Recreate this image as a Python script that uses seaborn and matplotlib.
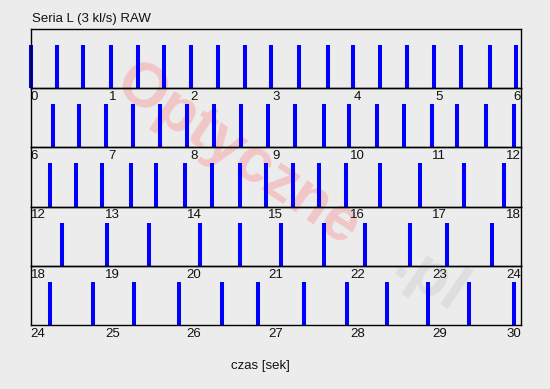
import numpy as np
import seaborn as sns
import matplotlib.pyplot as plt

row1 = [0.0, 0.32, 0.64, 0.98, 1.31, 1.63, 1.96, 2.29, 2.62, 2.94,
        3.29, 3.64, 3.95, 4.27, 4.60, 4.94, 5.27, 5.62, 5.94]
row2 = [6.27, 6.59, 6.92, 7.25, 7.59, 7.91, 8.24, 8.58, 8.90,
        9.24, 9.59, 9.90, 10.24, 10.57, 10.91, 11.22, 11.57, 11.91]
row3 = [12.24, 12.56, 12.88, 13.23, 13.53, 13.89, 14.22, 14.56, 14.88,
        15.21, 15.53, 15.86, 16.28, 16.76, 17.30, 17.79]
row4 = [18.38, 18.94, 19.45, 20.07, 20.56, 21.06, 21.59, 22.09,
        22.64, 23.09, 23.64]
row5 = [24.24, 24.76, 25.27, 25.82, 26.34, 26.78, 27.35, 27.87,
        28.36, 28.86, 29.36, 29.91]
rows = [row1, row2, row3, row4, row5]

title = "Seria L (3 kl/s) RAW"
xlabel = "czas [sek]"
span = 6

sns.set_style("white")
plt.rcParams['font.family'] = ['Liberation Sans', 'DejaVu Sans']
bg = "#ececec"

W, H = 550, 389
fig = plt.figure(figsize=(W / 100, H / 100), dpi=100, facecolor=bg)

left_px, right_px, top_px, row_h = 30.5, 521, 29, 59.2

for i, times in enumerate(rows):
    top = top_px + row_h * i
    ax = fig.add_axes([left_px / W, 1 - (top + row_h) / H,
                       (right_px - left_px) / W, row_h / H])
    ax.set_facecolor("none")
    lo = i * span
    sns.rugplot(x=np.array(times), height=0.73, ax=ax, color="#0000ff",
                linewidth=2.9, expand_margins=False, clip_on=False)
    ax.set_xlim(lo, lo + span)
    ax.set_ylim(0, 1)
    ax.set_yticks([])
    major = np.arange(lo, lo + span + 0.01, 0.5)
    labels = [str(int(v)) if v == int(v) else "" for v in major]
    ax.set_xticks(major)
    tl = ax.set_xticklabels(labels)
    tl[0].set_horizontalalignment("left")
    tl[-1].set_horizontalalignment("right")
    ax.set_xticks(np.arange(lo, lo + span + 0.01, 0.1), minor=True)
    ax.tick_params(axis="x", which="major", direction="in", length=4.5,
                   width=0.8, pad=2, labelsize=9.5, colors="black",
                   labelcolor="#111111")
    ax.tick_params(axis="x", which="minor", direction="in", length=2.3,
                   width=0.8, colors="black")
    for s in ax.spines.values():
        s.set_color("black")
        s.set_linewidth(1.0)
    ax.set_zorder(1)

fig.text(32 / W, 1 - 19 / H, title, fontsize=9.5, color="#111111",
         ha="left", va="center")
fig.text(260 / W, 1 - 366 / H, xlabel, fontsize=9.5, color="#111111",
         ha="center", va="center")

# faded watermark behind the strips
fig.text(238 / W, 1 - 155 / H, "Optyczne", fontsize=45, fontweight="bold",
         color="#f1c6c6", rotation=-34, ha="center", va="center",
         rotation_mode="anchor", zorder=-1)
fig.text(430 / W, 1 - 280 / H, ".pl", fontsize=45, fontweight="bold",
         color="#dedede", rotation=-34, ha="center", va="center",
         rotation_mode="anchor", zorder=-1)

fig.savefig("out.png", dpi=100, facecolor=bg)
